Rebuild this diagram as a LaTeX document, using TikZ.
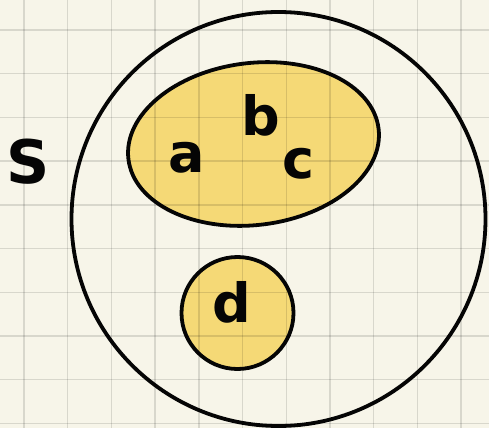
\documentclass[tikz,border=0pt]{standalone}
\usepackage{fontspec}
\newfontfamily\handfont{DejaVu Sans}
\usetikzlibrary{shapes.geometric}
\definecolor{paper}{RGB}{247,245,233}
\definecolor{setyellow}{RGB}{245,217,118}
\definecolor{ink}{RGB}{5,5,5}
\tikzset{
  setline/.style={draw=ink, line width=3.8pt},
  setfill/.style={fill=setyellow},
  letter/.style={font=\handfont\bfseries\fontsize{54}{54}\selectfont, text=ink, inner sep=0pt},
  gridline/.style={draw=black, draw opacity=0.12, line width=1.4pt}
}
\begin{document}
\begin{tikzpicture}[x=1pt,y=-1pt]
\useasboundingbox (0,0) rectangle (489,428);
\fill[paper] (0,0) rectangle (489,428);
% sets
\node[circle, setline, minimum size=414pt, inner sep=0pt] (U) at (278.5,219) {};
\node[ellipse, setline, setfill, minimum width=252pt, minimum height=162pt, inner sep=0pt, rotate=7] (A) at (253.5,144) {};
\node[circle, setline, setfill, minimum size=112pt, inner sep=0pt] (D) at (237.5,313) {};
% grid over everything
\foreach \i in {0,...,10} {
  \draw[gridline] (24+43.7*\i,0) -- (24+43.7*\i,428);
}
\foreach \j in {0,...,9} {
  \draw[gridline] (0,30+43.7*\j) -- (489,30+43.7*\j);
}
% labels
\node[letter, font=\handfont\bfseries\fontsize{60}{60}\selectfont] (S) at (28,162) {S};
\node[letter] (la) at (187,158) {a};
\node[letter] (lb) at (261,115) {b};
\node[letter] (lc) at (298,164) {c};
\node[letter] (ld) at (232,302) {d};
\end{tikzpicture}
\end{document}
